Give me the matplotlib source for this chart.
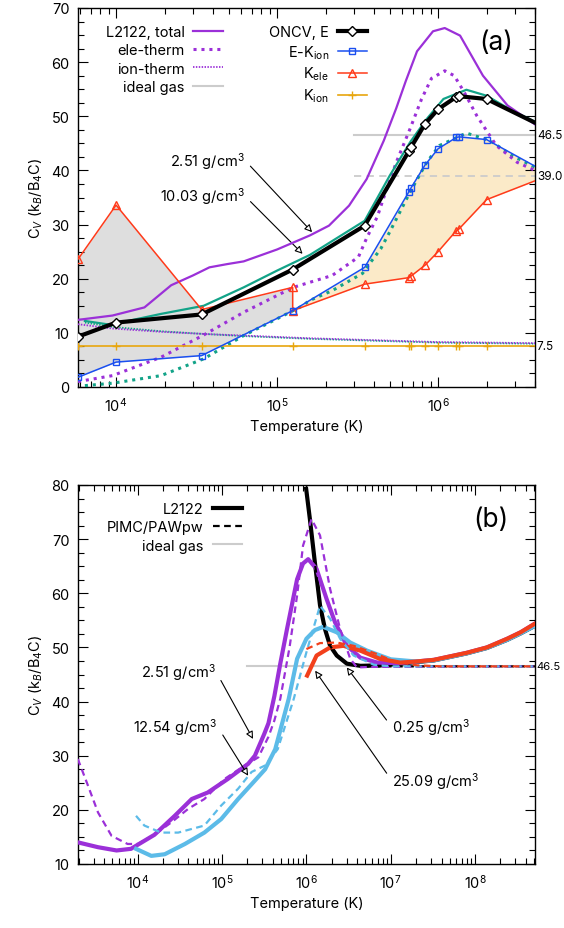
import matplotlib
matplotlib.use('Agg')
import matplotlib.pyplot as plt
import matplotlib.transforms as mtransforms
from matplotlib.lines import Line2D
from matplotlib.ticker import MultipleLocator, LogLocator, NullFormatter

plt.rcParams.update({
    'font.family': 'Inter',
    'mathtext.fontset': 'custom',
    'mathtext.rm': 'Inter',
    'mathtext.it': 'Inter:italic',
    'mathtext.bf': 'Inter:bold',
    'font.size': 10.5,
})

# ---------------- panel (a) data ----------------
# ONCV DFT points
T_dft = [5.8e3, 1.0e4, 3.4e4, 1.25e5, 3.5e5, 6.6e5, 6.8e5, 8.3e5, 1.0e6, 1.3e6, 1.35e6, 2.0e6, 5.0e6]
cv_oncv = [9.3, 11.9, 13.4, 21.7, 29.8, 43.6, 44.3, 48.6, 51.3, 53.6, 53.7, 53.2, 47.4]
cv_e_kion = [1.8, 4.6, 5.8, 14.1, 22.1, 36.1, 36.8, 41.0, 44.0, 46.1, 46.2, 45.7, 39.2]
T_kele = [5.8e3, 1.0e4, 3.4e4, 1.25e5, 1.25e5, 3.5e5, 6.6e5, 6.8e5, 8.3e5, 1.0e6, 1.3e6, 1.35e6, 2.0e6, 5.0e6]
cv_kele = [23.6, 33.6, 14.3, 18.4, 14.1, 19.0, 20.2, 20.5, 22.5, 25.0, 28.9, 29.2, 34.6, 39.2]
cv_kion = 7.5

# L2122 total, 2.51 g/cc
T_tot_251 = [5.8e3, 9.5e3, 1.5e4, 2.2e4, 3.0e4, 3.8e4, 4.9e4, 6.2e4, 1.0e5, 1.6e5, 2.1e5, 2.8e5,
             3.6e5, 4.6e5, 5.5e5, 6.3e5, 7.4e5, 9.3e5, 1.1e6, 1.37e6, 1.9e6, 2.7e6, 4.0e6]
cv_tot_251 = [12.4, 13.2, 14.7, 18.8, 20.6, 22.1, 22.7, 23.2, 25.4, 28.0, 29.8, 33.5,
              38.4, 45.5, 51.5, 56.5, 62.0, 65.7, 66.3, 64.9, 57.5, 52.0, 48.5]
# L2122 total, 10.03 g/cc
T_tot_1003 = [6.4e3, 9.2e3, 1.9e4, 3.5e4, 6.2e4, 1.0e5, 1.6e5, 3.5e5, 5.0e5, 6.7e5, 8.5e5,
              1.08e6, 1.5e6, 2.0e6, 2.9e6, 4.0e6]
cv_tot_1003 = [12.2, 11.5, 13.5, 15.0, 18.4, 21.5, 24.4, 30.7, 39.0, 45.2, 49.5,
               53.2, 54.9, 53.8, 51.0, 49.0]
# electron thermal part
T_ele_251 = [5.8e3, 9.5e3, 1.9e4, 3.5e4, 6.2e4, 1.26e5, 2.2e5, 3.2e5, 3.6e5, 4.2e5, 4.6e5, 5.5e5,
             6.7e5, 7.9e5, 9.1e5, 1.1e6, 1.26e6, 1.45e6, 1.74e6, 2.3e6, 3.1e6, 4.0e6]
cv_ele_251 = [1.0, 2.1, 5.5, 9.6, 13.8, 18.4, 20.6, 24.0, 27.5, 31.5, 35.0, 41.5,
              47.7, 53.2, 57.0, 58.4, 57.5, 54.5, 50.1, 44.6, 41.5, 40.0]
T_ele_1003 = [6.4e3, 9.5e3, 1.9e4, 3.5e4, 6.2e4, 1.0e5, 1.4e5, 1.6e5, 2.2e5, 3.4e5, 3.8e5, 4.4e5,
              5.0e5, 6.7e5, 8.5e5, 1.02e6, 1.5e6, 2.1e6, 2.9e6, 4.0e6]
cv_ele_1003 = [0.25, 0.7, 2.1, 5.2, 9.5, 12.6, 14.8, 16.0, 17.8, 21.0, 23.0, 25.5,
               28.6, 36.0, 41.5, 44.6, 46.9, 45.5, 42.7, 40.6]
# ion thermal part
T_ion_251 = [5.8e3, 9.5e3, 1.9e4, 3.5e4, 6.2e4, 1.6e5, 3.5e5, 1.0e6, 4.0e6]
cv_ion_251 = [11.6, 10.8, 10.2, 9.8, 9.5, 9.0, 8.7, 8.3, 8.1]
T_ion_1003 = [6.4e3, 9.5e3, 1.9e4, 3.5e4, 6.2e4, 1.6e5, 3.5e5, 1.0e6, 4.0e6]
cv_ion_1003 = [11.9, 11.1, 10.3, 9.8, 9.4, 8.9, 8.6, 8.2, 8.0]
# ideal gas limits
T_ideal_a = [3.0e5, 4.0e6]
cv_ideal_full = 46.5
cv_ideal_half = 39.0

# ---------------- panel (b) data ----------------
T_b_251 = [1.95e3, 3.39e3, 5.62e3, 8.32e3, 1.58e4, 2.75e4, 4.37e4, 6.76e4, 1.17e5, 2.04e5, 2.45e5,
           3.16e5, 3.55e5, 4.17e5, 4.9e5, 5.89e5, 7.76e5, 9.12e5, 1.05e6, 1.32e6, 1.74e6, 2.19e6,
           3.02e6, 4.37e6, 6.92e6, 1.26e7, 2.0e7, 3.24e7, 7.94e7, 1.38e8, 2.4e8, 3.47e8, 5.13e8]
cv_b_251 = [14.0, 13.1, 12.5, 12.8, 15.4, 18.9, 22.0, 23.2, 25.7, 28.5, 30.0,
            34.0, 36.0, 41.0, 47.0, 53.4, 62.6, 65.5, 66.3, 64.5, 58.9, 54.6,
            50.3, 48.1, 47.2, 47.1, 47.4, 47.7, 49.0, 50.0, 51.6, 52.8, 54.4]
T_pimc_251 = [1.95e3, 2.57e3, 3.39e3, 4.9e3, 7.59e3, 1.0e4, 1.58e4, 2.51e4, 3.98e4, 6.17e4, 1.07e5,
              1.86e5, 2.69e5, 3.55e5, 4.17e5, 4.9e5, 6.31e5, 7.76e5, 9.12e5, 1.15e6, 1.45e6,
              1.91e6, 2.51e6, 3.31e6, 3.98e6, 5.62e6, 5.13e8]
cv_pimc_251 = [29.4, 24.5, 19.5, 15.2, 13.7, 13.7, 15.4, 17.7, 20.2, 22.0, 25.7,
               28.2, 29.7, 33.5, 36.5, 40.5, 50.0, 59.6, 68.8, 73.7, 70.7,
               60.8, 53.4, 47.9, 46.3, 46.4, 46.5]
T_b_1254 = [9.55e3, 1.45e4, 2.09e4, 3.63e4, 6.17e4, 9.77e4, 1.55e5, 2.45e5, 3.24e5, 4.27e5, 6.17e5,
            7.76e5, 1.0e6, 1.26e6, 1.58e6, 2.29e6, 3.31e6, 5.25e6, 1.0e7, 2.0e7, 3.24e7, 7.94e7,
            1.38e8, 2.4e8, 3.47e8, 5.13e8]
cv_b_1254 = [12.8, 11.5, 11.8, 13.7, 15.8, 18.3, 22.0, 25.4, 27.5, 31.2, 40.5,
             47.9, 51.6, 53.2, 53.8, 52.8, 50.9, 49.4, 47.8, 47.4, 47.6, 48.9,
             49.9, 51.4, 52.6, 54.0]
T_pimc_1254 = [9.55e3, 1.2e4, 1.9e4, 3.02e4, 6.17e4, 9.77e4, 1.55e5, 2.24e5, 3.24e5, 4.57e5, 7.08e5,
               1.0e6, 1.45e6, 1.91e6, 2.51e6, 3.63e6, 6.31e6, 1.0e7, 5.13e8]
cv_pimc_1254 = [18.9, 17.1, 15.8, 15.8, 17.1, 20.8, 23.9, 27.0, 28.2, 31.2, 40.5,
                49.1, 57.7, 55.3, 51.6, 48.5, 46.8, 46.5, 46.5]
T_b_025 = [9.93e5, 1.1e6, 1.26e6, 1.45e6, 1.66e6, 1.91e6, 2.29e6, 3.02e6, 4.37e6, 7.94e6, 1.26e7,
           2.0e7, 3.24e7, 7.94e7, 1.38e8, 2.4e8, 3.47e8, 5.13e8]
cv_b_025 = [79.3, 73.7, 65.7, 57.8, 53.4, 50.3, 48.5, 47.0, 46.6, 46.7, 47.0,
            47.3, 47.6, 48.9, 49.9, 51.4, 52.6, 54.0]
T_pimc_025 = [9.93e5, 1.1e6, 1.26e6, 1.45e6, 1.66e6, 1.91e6, 2.29e6, 3.02e6, 4.37e6, 5.13e8]
cv_pimc_025 = [79.3, 73.7, 65.7, 57.8, 53.4, 50.3, 48.5, 47.0, 46.5, 46.5]
T_b_2509 = [1.02e6, 1.32e6, 1.91e6, 2.75e6, 4.37e6, 7.41e6, 1.29e7, 2.0e7, 3.24e7, 7.94e7,
            1.38e8, 2.4e8, 3.47e8, 5.13e8]
cv_b_2509 = [44.8, 48.5, 50.0, 50.3, 49.4, 47.9, 47.2, 47.4, 47.7, 49.0,
             50.0, 51.6, 52.8, 54.4]
T_pimc_2509 = [1.0e6, 1.45e6, 2.29e6, 3.63e6, 6.76e6, 1.07e7, 2.04e7, 3.98e7, 5.13e8]
cv_pimc_2509 = [49.7, 50.8, 50.9, 50.3, 48.8, 47.5, 46.7, 46.5, 46.5]
T_ideal_b = [2.0e5, 5.13e8]

purple = '#9b30d8'
teal = '#12a388'
blue = '#1a4ff0'
red = '#ff3a1a'
orange = '#e8a60e'
cyan = '#5cbbe8'
red2 = '#f2401c'
grey = '#cccccc'

fig = plt.figure(figsize=(5.64, 9.29), dpi=100)
W, H = 564.0, 929.0
ax1 = fig.add_axes([78 / W, 1 - 388 / H, 457 / W, 379 / H])
ax2 = fig.add_axes([78 / W, 1 - 865 / H, 457 / W, 379 / H])

dot = (0, (1, 1.6))
fine = (0, (0.8, 0.8))

# ---------- (a) ----------
ax = ax1
ax.fill_between(T_dft[:4], cv_kele[:4], cv_e_kion[:4], color='#dedede', lw=0, zorder=1)
ax.fill_between(T_dft[3:], cv_e_kion[3:], cv_kele[4:], color='#fbeac8', lw=0, zorder=1)
ax.plot(T_ideal_a, [cv_ideal_full] * 2, color=grey, lw=1.5, zorder=2)
ax.plot(T_ideal_a, [cv_ideal_half] * 2, color=grey, lw=1.3, ls=(0, (4, 3)), zorder=2)
ax.plot(T_ion_1003, cv_ion_1003, color=teal, lw=1.3, ls=fine, zorder=3)
ax.plot(T_ion_251, cv_ion_251, color=purple, lw=1.3, ls=fine, zorder=3)
ax.plot(T_dft, [cv_kion] * len(T_dft), color=orange, lw=1.2, marker='+', ms=6, mew=1, zorder=4)
ax.plot(T_ele_1003, cv_ele_1003, color=teal, lw=2.2, ls=dot, zorder=3)
ax.plot(T_ele_251, cv_ele_251, color=purple, lw=2.2, ls=dot, zorder=3)
ax.plot(T_tot_1003, cv_tot_1003, color=teal, lw=1.6, zorder=4)
ax.plot(T_tot_251, cv_tot_251, color=purple, lw=1.6, zorder=4)
ax.plot(T_kele, cv_kele, color=red, lw=1.1, marker='^', ms=5.5, mfc='none', mew=1, zorder=5)
ax.plot(T_dft, cv_e_kion, color=blue, lw=1.1, marker='s', ms=5, mfc='none', mew=1, zorder=5)
ax.plot(T_dft, cv_oncv, color='black', lw=3, marker='D', ms=5, mfc='white', mew=1, zorder=6)

ax.set_xscale('log')
ax.set_xlim(5.8e3, 4.0e6)
ax.set_ylim(0, 70)
ax.yaxis.set_major_locator(MultipleLocator(10))
ax.yaxis.set_minor_locator(MultipleLocator(2.5))

h_a = [Line2D([], [], color=purple, lw=1.6),
       Line2D([], [], color=purple, lw=2.2, ls=dot),
       Line2D([], [], color=purple, lw=1.3, ls=fine),
       Line2D([], [], color=grey, lw=1.5),
       Line2D([], [], color='black', lw=3, marker='D', ms=5, mfc='white', mew=1),
       Line2D([], [], color=blue, lw=1.1, marker='s', ms=5, mfc='none', mew=1),
       Line2D([], [], color=red, lw=1.1, marker='^', ms=5.5, mfc='none', mew=1),
       Line2D([], [], color=orange, lw=1.2, marker='+', ms=6, mew=1)]
l_a = ['L2122, total', 'ele-therm', 'ion-therm', 'ideal gas',
       'ONCV, E', r'E-K$_{\rm ion}$', r'K$_{\rm ele}$', r'K$_{\rm ion}$']
ax.legend(h_a, l_a, ncol=2, markerfirst=False, frameon=False, loc='upper left',
          bbox_to_anchor=(0.045, 0.975), borderpad=0, handlelength=2.0, handletextpad=0.6,
          columnspacing=3.2, labelspacing=0.3, fontsize=10.5)

ax.text(0.952, 0.91, '(a)', transform=ax.transAxes, fontsize=19, ha='right', va='center')

arr = dict(arrowstyle='-|>', color='black', lw=0.8, fc='white', mutation_scale=11,
           shrinkA=3, shrinkB=0)
ax.annotate('2.51 g/cm$^3$', xy=(1.65e5, 28.6), xytext=(6.3e4, 41.9), ha='right', va='center',
            arrowprops=dict(arr, relpos=(1, 0.5)))
ax.annotate('10.03 g/cm$^3$', xy=(1.44e5, 24.6), xytext=(6.3e4, 35.3), ha='right', va='center',
            arrowprops=dict(arr, relpos=(1, 0.5)))

tr = mtransforms.blended_transform_factory(ax.transAxes, ax.transData)
for v, s in [(cv_ideal_full, '46.5'), (cv_ideal_half, '39.0'), (cv_kion, '7.5')]:
    ax.text(1.004, v, s, transform=tr, fontsize=8.5, va='center', ha='left')

# ---------- (b) ----------
ax = ax2
ax.plot(T_ideal_b, [cv_ideal_full] * 2, color=grey, lw=1.5, zorder=1)
ax.plot(T_b_025, cv_b_025, color='black', lw=3, zorder=2)
ax.plot(T_b_251, cv_b_251, color=purple, lw=3, zorder=3)
ax.plot(T_b_1254, cv_b_1254, color=cyan, lw=3, zorder=3)
ax.plot(T_b_2509, cv_b_2509, color=red2, lw=3, zorder=4)
dash = (0, (3, 2))
ax.plot(T_pimc_025, cv_pimc_025, color='black', lw=1.6, ls=dash, zorder=5)
ax.plot(T_pimc_251, cv_pimc_251, color=purple, lw=1.6, ls=dash, zorder=5)
ax.plot(T_pimc_1254, cv_pimc_1254, color=cyan, lw=1.6, ls=dash, zorder=5)
ax.plot(T_pimc_2509, cv_pimc_2509, color=red2, lw=1.6, ls=dash, zorder=5)

ax.set_xscale('log')
ax.set_xlim(1.96e3, 5.13e8)
ax.set_ylim(10, 80)
ax.yaxis.set_major_locator(MultipleLocator(10))
ax.yaxis.set_minor_locator(MultipleLocator(2.5))

h_b = [Line2D([], [], color='black', lw=3),
       Line2D([], [], color='black', lw=1.6, ls=dash),
       Line2D([], [], color=grey, lw=1.5)]
ax.legend(h_b, ['L2122', 'PIMC/PAWpw', 'ideal gas'], markerfirst=False, frameon=False,
          loc='upper left', bbox_to_anchor=(0.048, 0.975), borderpad=0, handlelength=2.0,
          handletextpad=0.6, labelspacing=0.3, fontsize=10.5)
ax.text(0.941, 0.91, '(b)', transform=ax.transAxes, fontsize=19, ha='right', va='center')

ax.annotate('2.51 g/cm$^3$', xy=(2.33e5, 33.1), xytext=(8.5e4, 45.5), ha='right', va='center',
            arrowprops=dict(arr, relpos=(1, 0.5)))
ax.annotate('12.54 g/cm$^3$', xy=(2.04e5, 26.3), xytext=(8.9e4, 35.3), ha='right', va='center',
            arrowprops=dict(arr, relpos=(1, 0.5)))
ax.annotate('0.25 g/cm$^3$', xy=(3.01e6, 46.3), xytext=(1.03e7, 35.3), ha='left', va='center',
            arrowprops=dict(arr, relpos=(0, 0.5)))
ax.annotate('25.09 g/cm$^3$', xy=(1.27e6, 45.7), xytext=(1.03e7, 25.4), ha='left', va='center',
            arrowprops=dict(arr, relpos=(0, 0.5)))
tr = mtransforms.blended_transform_factory(ax.transAxes, ax.transData)
ax.text(1.002, cv_ideal_full, '46.5', transform=tr, fontsize=8, va='center', ha='left')

for ax in (ax1, ax2):
    ax.xaxis.set_major_locator(LogLocator(base=10, numticks=20))
    ax.xaxis.set_minor_locator(LogLocator(base=10, subs=range(2, 10), numticks=20))
    ax.xaxis.set_minor_formatter(NullFormatter())
    ax.tick_params(which='both', direction='in', top=True, right=True, width=0.8)
    ax.tick_params(which='major', length=7, pad=6)
    ax.tick_params(which='minor', length=4)
    for sp in ax.spines.values():
        sp.set_linewidth(1.0)
    ax.set_xlabel('Temperature (K)', labelpad=4)
    ax.set_ylabel(r'C$_V$ (k$_B$/B$_4$C)', labelpad=4)

fig.savefig('out.png', dpi=100)
